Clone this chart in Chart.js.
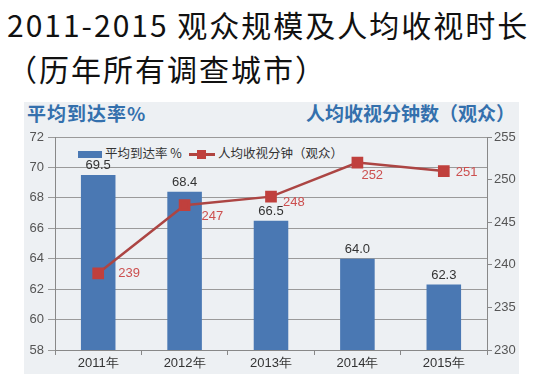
<!DOCTYPE html>
<html>
<head>
<meta charset="utf-8">
<script src="https://cdn.jsdelivr.net/npm/chart.js@4.4.0/dist/chart.umd.min.js"></script>
<style>
  body { margin: 0; width: 544px; height: 374px; background: #fff; overflow: hidden; position: relative; font-family: "Noto Sans CJK SC", sans-serif; }
  .title { position: absolute; left: 7px; font-size: 30px; color: #111; white-space: nowrap; line-height: 1; letter-spacing: 2px; }
  #panel { position: absolute; left: 24px; top: 102px; width: 495px; height: 280px; background: #edf0f3; }
  .head { position: absolute; top: 103px; font-size: 19px; font-weight: bold; color: #3470ad; white-space: nowrap; line-height: 1; }
  .leg { position: absolute; top: 145px; font-size: 12.5px; color: #333; white-space: nowrap; line-height: 16px; }
  #chart { position: absolute; left: 0; top: 0; }
</style>
</head>
<body>
<div class="title" style="top:9px">2011-2015 观众规模及人均收视时长</div>
<div class="title" style="top:53px">（历年所有调查城市）</div>
<div id="panel"></div>
<div class="head" style="left:27px;letter-spacing:1px">平均到达率%</div>
<div class="head" style="right:29px">人均收视分钟数（观众）</div>
<div class="leg" style="left:78px"><span style="display:inline-block;width:24px;height:7px;background:#4a78b3;vertical-align:middle;margin-right:3px"></span>平均到达率 %</div>
<div class="leg" style="left:189px"><span style="display:inline-block;position:relative;width:26px;height:3px;background:#b0443f;vertical-align:middle;margin-right:3px"><span style="position:absolute;left:8px;top:-3px;width:9px;height:9px;background:#c0403d"></span></span>人均收视分钟（观众）</div>
<canvas id="chart" width="544" height="374"></canvas>
<script>
const years = ['2011年', '2012年', '2013年', '2014年', '2015年'];
const reachRate = [69.5, 68.4, 66.5, 64.0, 62.3];
const viewMinutes = [239, 247, 248, 252, 251];
const leftTicks = [58, 60, 62, 64, 66, 68, 70, 72];
const rightTicks = [230, 235, 240, 245, 250, 255];

// where each minute label sits next to its point
const minuteLabelShift = [[20, 0], [17, 11], [12, 6], [4, 13], [12, 1]];

const valueLabels = {
  id: 'valueLabels',
  afterDatasetsDraw(chart) {
    const ctx = chart.ctx;
    ctx.save();
    ctx.font = '13px "Liberation Sans", Arial, sans-serif';
    ctx.textBaseline = 'bottom';
    ctx.textAlign = 'center';
    ctx.fillStyle = '#333';
    chart.getDatasetMeta(0).data.forEach((bar, i) => {
      ctx.fillText(reachRate[i].toFixed(1), bar.x, bar.y - 3);
    });
    ctx.textBaseline = 'middle';
    ctx.textAlign = 'left';
    ctx.fillStyle = '#cc4f4f';
    chart.getDatasetMeta(1).data.forEach((pt, i) => {
      const s = minuteLabelShift[i];
      ctx.fillText(String(viewMinutes[i]), pt.x + s[0], pt.y + s[1]);
    });
    ctx.restore();
  }
};

const tickFont = { family: '"Liberation Sans", Arial, sans-serif', size: 13 };

new Chart(document.getElementById('chart'), {
  type: 'bar',
  data: {
    labels: years,
    datasets: [{
      type: 'bar',
      data: reachRate,
      yAxisID: 'y',
      backgroundColor: '#4a78b3',
      barPercentage: 0.4,
      categoryPercentage: 1,
      order: 1
    }, {
      type: 'line',
      data: viewMinutes,
      yAxisID: 'y2',
      borderColor: '#ac4543',
      borderWidth: 2.5,
      pointStyle: 'rect',
      pointRadius: 6.5,
      pointBackgroundColor: '#c0403d',
      pointBorderColor: '#c0403d',
      order: 0
    }]
  },
  options: {
    responsive: false,
    animation: false,
    layout: { autoPadding: false, padding: { top: 137, left: 0, right: 0, bottom: 0 } },
    plugins: {
      legend: { display: false },
      tooltip: { enabled: false }
    },
    scales: {
      x: {
        afterFit: s => { s.height = 24; },
        grid: { offset: true, drawOnChartArea: false, tickLength: 5, color: '#888' },
        border: { color: '#888' },
        ticks: { color: '#333', font: tickFont, padding: 1 }
      },
      y: {
        position: 'left',
        min: 58, max: 72,
        afterFit: s => { s.width = 55; },
        afterBuildTicks: s => { s.ticks = leftTicks.map(v => ({ value: v })); },
        grid: { color: '#9a9a9a', borderDash: [9, 6], tickBorderDash: [], tickLength: 7 },
        border: { color: '#888' },
        ticks: { color: '#555', font: tickFont, padding: 4 }
      },
      y2: {
        position: 'right',
        min: 230, max: 255,
        afterFit: s => { s.width = 57; },
        afterBuildTicks: s => { s.ticks = rightTicks.map(v => ({ value: v })); },
        grid: { drawOnChartArea: false, tickLength: 5, color: '#888' },
        border: { color: '#888' },
        ticks: { color: '#555', font: tickFont, padding: 2 }
      }
    }
  },
  plugins: [valueLabels]
});
</script>
</body>
</html>
